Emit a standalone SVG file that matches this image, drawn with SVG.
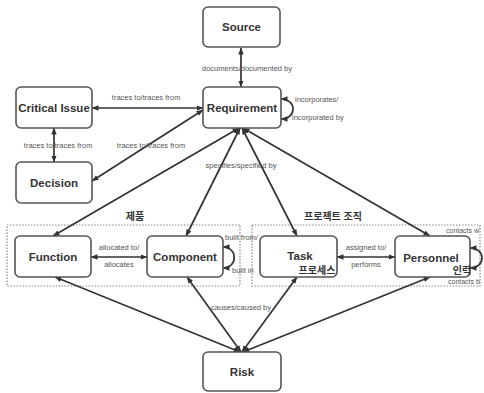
<svg xmlns="http://www.w3.org/2000/svg" width="484" height="393" viewBox="0 0 484 393">
<defs>
<marker id="ah" markerUnits="userSpaceOnUse" markerWidth="7" markerHeight="7" viewBox="0 0 7 7" refX="6.5" refY="3.5" orient="auto-start-reverse">
<path d="M0,0.8 L7,3.5 L0,6.2 Z" fill="#333"/>
</marker>
<style>
.node rect{fill:#fff;stroke:#555;stroke-width:1.6}
.nt{font-family:"Liberation Sans",Arial,sans-serif;font-weight:bold;font-size:11.5px;fill:#333;text-anchor:middle}
.kr{font-family:"Liberation Sans","Noto Sans CJK KR",sans-serif;font-weight:bold;font-size:10px;fill:#333}
.lb{font-family:"Liberation Sans Narrow","Liberation Sans",Arial,sans-serif;font-size:7.5px;fill:#555}
.c{text-anchor:middle}
.grp{fill:none;stroke:#888;stroke-width:1.2;stroke-dasharray:1.5,1.5}
.e{fill:none;stroke:#333;stroke-width:1.7;marker-start:url(#ah);marker-end:url(#ah)}
</style>
</defs>
<rect width="484" height="393" fill="#fff"/>
<g id="groups">
<rect class="grp" x="7" y="225" width="233" height="61"/>
<rect class="grp" x="252" y="225" width="228" height="61"/>
<text class="kr c" x="135" y="220">제품</text>
<text class="kr c" x="333" y="220">프로젝트 조직</text>
</g>
<g id="connectors">
<line class="e" x1="241" y1="48" x2="241" y2="87"/>
<line class="e" x1="92" y1="108" x2="203" y2="108"/>
<line class="e" x1="54" y1="128" x2="54" y2="162"/>
<line class="e" x1="92" y1="181" x2="203" y2="110"/>
<line class="e" x1="239" y1="128" x2="53" y2="236"/>
<line class="e" x1="240" y1="128" x2="186" y2="236"/>
<line class="e" x1="242" y1="128" x2="297" y2="236"/>
<line class="e" x1="243" y1="128" x2="430" y2="236"/>
<line class="e" x1="91" y1="257" x2="147" y2="257"/>
<line class="e" x1="337" y1="257" x2="395" y2="257"/>
<line class="e" x1="240" y1="352" x2="55" y2="277"/>
<line class="e" x1="241" y1="352" x2="187" y2="277"/>
<line class="e" x1="242" y1="352" x2="297" y2="277"/>
<line class="e" x1="243" y1="352" x2="430" y2="277"/>
<path class="e" d="M281,99 C297,99 297,119 281,119"/>
<path class="e" d="M223,247 C238,247 238,268 223,268"/>
<path class="e" d="M470,248 C486,248 486,268 470,268"/>
<text class="lb c" x="247" y="71">documents/documented by</text>
<text class="lb c" x="146" y="100">traces to/traces from</text>
<text class="lb c" x="58" y="148">traces to/traces from</text>
<text class="lb c" x="151" y="148">traces to/traces from</text>
<text class="lb" x="295" y="102">incorporates/</text>
<text class="lb" x="292" y="120">incorporated by</text>
<text class="lb c" x="241" y="168">specifies/specified by</text>
<text class="lb c" x="119" y="250">allocated to/</text>
<text class="lb c" x="119" y="267">allocates</text>
<text class="lb c" x="366" y="250">assigned to/</text>
<text class="lb c" x="366" y="267">performs</text>
<text class="lb" x="225" y="240">built from/</text>
<text class="lb" x="232" y="273">built in</text>
<text class="lb" x="446" y="233" style="font-size:7px">contacts w</text>
<text class="lb" x="448" y="284" style="font-size:7px">contacts b</text>
<text class="lb c" x="241" y="310">causes/caused by</text>
</g>
<g id="source" class="node"><rect x="203" y="7" width="77" height="40" rx="5"/><text class="nt" x="241.5" y="31">Source</text></g>
<g id="requirement" class="node"><rect x="203" y="87" width="78" height="41" rx="5"/><text class="nt" x="242" y="112">Requirement</text></g>
<g id="critical-issue" class="node"><rect x="16" y="87" width="76" height="41" rx="5"/><text class="nt" x="54" y="112">Critical Issue</text></g>
<g id="decision" class="node"><rect x="16" y="162" width="76" height="41" rx="5"/><text class="nt" x="54" y="187">Decision</text></g>
<g id="function" class="node"><rect x="15" y="236" width="76" height="41" rx="5"/><text class="nt" x="53" y="261">Function</text></g>
<g id="component" class="node"><rect x="147" y="236" width="76" height="41" rx="5"/><text class="nt" x="185" y="261">Component</text></g>
<g id="task" class="node"><rect x="260" y="236" width="77" height="41" rx="5"/><text class="nt" x="300" y="260">Task</text><text class="kr c" x="317" y="274">프로세스</text></g>
<g id="personnel" class="node"><rect x="395" y="236" width="75" height="41" rx="5"/><text class="nt" x="431" y="262">Personnel</text><text class="kr c" x="462" y="274">인력</text></g>
<g id="risk" class="node"><rect x="203" y="352" width="78" height="39" rx="5"/><text class="nt" x="242" y="376">Risk</text></g>
</svg>
